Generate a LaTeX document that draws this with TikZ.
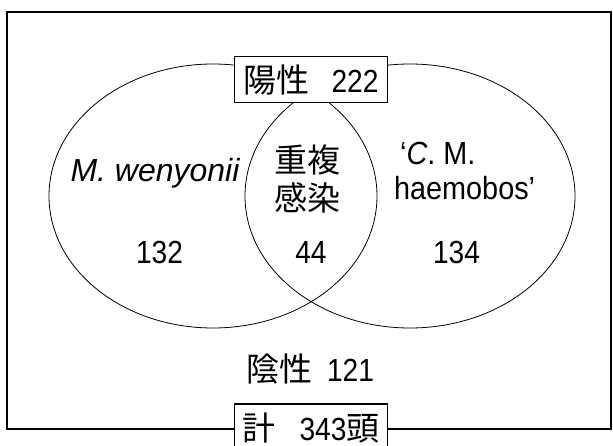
\documentclass[tikz,border=0pt]{standalone}
\usepackage{fontspec}
\setmainfont{Liberation Sans}
\newfontfamily\jp{Noto Sans CJK JP}
\newfontfamily\nar[FakeStretch=0.88]{Liberation Sans}
\newfontfamily\lat[FakeStretch=0.9]{Liberation Sans}
\newcommand\jpt[1]{{\fontsize{33}{38.5}\selectfont\jp #1}}
\newcommand\numt[1]{{\fontsize{32}{38}\selectfont\nar #1}}
\begin{document}
\begin{tikzpicture}[x=1pt,y=-1pt,
  lbl/.style={font=\fontsize{32}{38}\selectfont, inner sep=0pt},
  boxlbl/.style={lbl, draw, line width=1.1pt, fill=white, minimum width=153pt, minimum height=46pt, anchor=center},
  venn/.style={line width=0.8pt}]
\useasboundingbox (0,0) rectangle (613,446);
\clip (0,0) rectangle (613,446);
\fill[white] (0,0) rectangle (613,446);
\draw[line width=1.4pt] (7,12) rectangle (611,429);
\draw[venn] (213,196) ellipse [x radius=164pt, y radius=132pt];
\draw[venn] (410,196) ellipse [x radius=165pt, y radius=132pt];
\node[boxlbl] (pos) at (311,79.5) {\jpt{陽性}\hspace{22pt}\numt{222}};
\node[boxlbl, minimum height=48pt] (tot) at (311,428) {\jpt{計}\hspace{24pt}\numt{343}\jpt{頭}};
\node[lbl, anchor=base] (mw) at (155,182) {\itshape M. wenyonii};
\node[lbl, anchor=center] (dual1) at (307.5,159.5) {\jpt{重複}};
\node[lbl, anchor=center] (dual2) at (307.5,198) {\jpt{感染}};
\node[lbl, anchor=base west] (cm1) at (400,165) {\lat ‘\textit{C}. M.};
\node[lbl, anchor=base west] (cm2) at (394,200) {\lat haemobos’};
\node[lbl, anchor=center] (n1) at (159.5,252) {\numt{132}};
\node[lbl, anchor=center] (n2) at (311,252) {\numt{44}};
\node[lbl, anchor=center] (n3) at (456.5,252) {\numt{134}};
\node[lbl, anchor=center] (neg) at (310,369) {\jpt{陰性}\hspace{15pt}\numt{121}};
\end{tikzpicture}
\end{document}
